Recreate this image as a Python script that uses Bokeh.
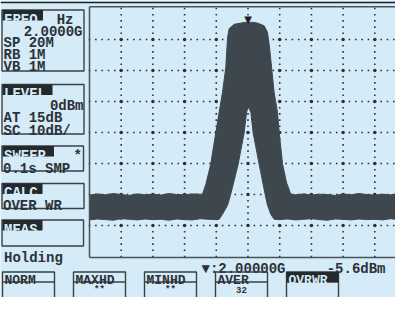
from bokeh.plotting import figure
from bokeh.models import Range1d
from bokeh.core.properties import value
from bokeh.embed import file_html
from bokeh.resources import INLINE
import numpy as np

# ---------------- data ----------------
# upper envelope of the trace (MHz, dBm)
upper_freq_mhz = [1990.0, 1990.5, 1991.0, 1991.5, 1992.0, 1992.5, 1993.0, 1993.5,
                  1994.0, 1994.5, 1995.0, 1995.5, 1996.0, 1996.5, 1997.0,
                  1997.13, 1997.34, 1997.65, 1997.97, 1998.18, 1998.39, 1998.60,
                  1998.71, 1998.81, 1999.13, 1999.76, 2000.01, 2000.39, 2000.66,
                  2001.02, 2001.23, 2001.36, 2001.65, 2001.86, 2001.97, 2002.18,
                  2002.43, 2002.70,
                  2003.0, 2003.5, 2004.0, 2004.5, 2005.0, 2005.5, 2006.0, 2006.5,
                  2007.0, 2007.5, 2008.0, 2008.5, 2009.0, 2009.5, 2010.0]
upper_dbm = [-60.2, -59.8, -60.1, -59.7, -60.0, -60.3, -59.8, -60.1,
             -59.9, -60.2, -59.7, -60.0, -60.1, -59.8, -59.9,
             -59.9, -56.7, -50.2, -40.0, -33.5, -27.1, -19.0,
             -9.4, -6.5, -5.1, -4.5, -4.4, -4.5, -4.8,
             -5.6, -7.7, -12.6, -27.1, -33.5, -40.0, -50.2,
             -56.1, -59.9,
             -60.1, -59.8, -60.2, -59.9, -60.0, -60.3, -59.8, -60.1,
             -59.7, -60.0, -60.2, -59.9, -60.1, -59.8, -60.0]
# lower envelope of the trace (MHz, dBm)
lower_freq_mhz = [1990.0, 1990.5, 1991.0, 1991.5, 1992.0, 1992.5, 1993.0, 1993.5,
                  1994.0, 1994.5, 1995.0, 1995.5, 1996.0, 1996.5, 1997.0, 1997.5,
                  1998.0,
                  1998.18, 1998.39, 1998.71, 1998.91, 1999.38, 1999.76, 1999.91,
                  2000.01, 2000.18, 2000.32, 2000.70, 2001.08, 2001.23, 2001.44,
                  2001.65,
                  2002.0, 2002.5, 2003.0, 2003.5, 2004.0, 2004.5, 2005.0, 2005.5,
                  2006.0, 2006.5, 2007.0, 2007.5, 2008.0, 2008.5, 2009.0, 2009.5,
                  2010.0]
lower_dbm = [-68.2, -67.9, -68.1, -68.3, -67.8, -68.0, -68.2, -67.9,
             -68.1, -68.0, -68.3, -67.9, -68.1, -68.2, -67.8, -68.0,
             -68.1,
             -68.0, -66.4, -63.5, -59.9, -50.2, -40.0, -33.5,
             -31.6, -33.5, -40.0, -50.2, -59.9, -63.5, -66.4,
             -68.0,
             -68.1, -67.9, -68.2, -68.0, -67.8, -68.1, -68.3, -67.9,
             -68.0, -68.2, -67.9, -68.1, -68.0, -68.2, -67.8, -68.1,
             -68.0]

span_freq_mhz = [1990.0, 2010.0]
span_dbm = [-80.0, 0.0]
vgrid_freq_mhz = [1992, 1994, 1996, 1998, 2000, 2002, 2004, 2006, 2008]
hgrid_dbm = [-10, -20, -30, -40, -50, -60, -70]

marker_freq_mhz = 2000.0
marker_text = ["\u25bc:2.00000G", "-5.6dBm"]

freq_lines = ["2.0000G", "SP 20M", "RB  1M", "VB  1M"]
level_lines = ["0dBm", "AT 15dB", "SC 10dB/"]
sweep_lines = ["0.1s SMP"]
calc_lines = ["OVER WR"]
meas_status = ["Holding"]
section_titles = ["FREQ", "LEVEL", "SWEEP", "CALC", "MEAS"]
button_labels = ["NORM", "MAXHD", "MINHD", "AVER", "OVRWR"]
button_values = ["", "**", "**", "32", ""]

# ---------------- style / layout ----------------
BG = "#d5ebf7"
INK = "#2c3237"
DARK = "#24292d"
TRACE = "#3e474e"
W, H = 395, 297
X0, Y0 = 8, 8            # page margin: pixel coords match reference image
PLOT_L, PX_PER_MHZ = 97.0, 15.85
DB0_Y, PX_PER_DB = 16.0, 3.1

FONT = value("Liberation Mono")
FS = value("14px")

p = figure(width=W, height=H, output_backend="svg", toolbar_location=None,
           x_axis_type=None, y_axis_type=None,
           x_range=Range1d(X0, X0 + W), y_range=Range1d(Y0 + H, Y0),
           min_border=0, min_border_left=0, min_border_right=0,
           min_border_top=0, min_border_bottom=0)
p.background_fill_color = BG
p.border_fill_color = BG
p.outline_line_color = None
p.grid.visible = False

f_lo = span_freq_mhz[0] + (X0 - PLOT_L) / PX_PER_MHZ
f_hi = span_freq_mhz[0] + (X0 + W - PLOT_L) / PX_PER_MHZ
d_top = -(Y0 - DB0_Y) / PX_PER_DB
d_bot = -(Y0 + H - DB0_Y) / PX_PER_DB
p.extra_x_ranges = {"freq": Range1d(f_lo, f_hi)}
p.extra_y_ranges = {"db": Range1d(d_bot, d_top)}
RK = dict(x_range_name="freq", y_range_name="db")

# screen top border
p.segment(x0=[X0], x1=[X0 + W], y0=[10], y1=[10], line_color="#1e2226", line_width=1.6)

# grid dots
for yv in hgrid_dbm:
    xs = np.arange(span_freq_mhz[0], span_freq_mhz[1] + 0.01, 0.4)
    p.scatter(x=xs, y=[yv] * len(xs), marker="square", size=1.6,
              fill_color=INK, line_color=None, **RK)
for xv in vgrid_freq_mhz:
    ys = np.arange(span_dbm[0], span_dbm[1] + 0.01, 2.0)
    p.scatter(x=[xv] * len(ys), y=ys, marker="square", size=1.6,
              fill_color=INK, line_color=None, **RK)
gx, gy = np.meshgrid(vgrid_freq_mhz, hgrid_dbm)
p.scatter(x=gx.ravel(), y=gy.ravel(), marker="circle", size=3.6,
          fill_color=INK, line_color=None, **RK)

# trace band
px = list(upper_freq_mhz) + list(reversed(lower_freq_mhz))
py = list(upper_dbm) + list(reversed(lower_dbm))
p.patch(x=px, y=py, fill_color=TRACE, line_color=TRACE, line_width=1, **RK)

# plot frame (left, top, bottom)
p.segment(x0=[span_freq_mhz[0], span_freq_mhz[0], span_freq_mhz[0]],
          x1=[span_freq_mhz[0], span_freq_mhz[1] + 1, span_freq_mhz[1] + 1],
          y0=[span_dbm[0] - 0.3, span_dbm[1] + 0.6, span_dbm[0] - 0.3],
          y1=[span_dbm[1] + 0.6, span_dbm[1] + 0.6, span_dbm[0] - 0.3],
          line_color="#4a5157", line_width=1.5, **RK)

# peak marker
pk = int(np.argmax(upper_dbm))
p.text(x=[marker_freq_mhz], y=[upper_dbm[pk]], text=["\u25bc"], text_align="center",
       text_baseline="bottom", text_font=value("DejaVu Sans"), text_font_size=value("10px"),
       text_color="#1e2226", y_offset=3, **RK)

# ---------- left panel ----------
boxes = [(9.5, 91.5, 17.5, 78.5), (9.5, 91.5, 92, 141.5), (9.5, 91, 153.5, 178.5),
         (9.5, 91.5, 191, 216), (9.5, 91, 227.5, 253.5)]
p.quad(left=[b[0] for b in boxes], right=[b[1] for b in boxes],
       top=[b[2] for b in boxes], bottom=[b[3] for b in boxes],
       fill_color=None, line_color="#3a4045", line_width=1.4)

hl_top = [17.5, 92, 153.5, 191, 227.5]
hl_right = [50.5, 60, 61.5, 50, 50]
p.quad(left=[10] * 5, right=hl_right, top=hl_top, bottom=[t + 10.5 for t in hl_top],
       fill_color=DARK, line_color=None)
p.text(x=[11.5] * 5, y=[t + 9.6 for t in hl_top], text=section_titles,
       text_font=FONT, text_font_style="bold", text_font_size=FS,
       text_color=BG, text_baseline="alphabetic")

common = dict(text_font=FONT, text_font_style="bold", text_font_size=FS,
              text_color=INK, text_baseline="alphabetic")
# FREQ box
p.text(x=[81], y=[27.0], text=["Hz"], text_align="right", **common)
p.text(x=[90], y=[39.3], text=[freq_lines[0]], text_align="right", **common)
p.text(x=[11] * 3, y=[50.8, 62.4, 74.0], text=freq_lines[1:], **common)
# LEVEL box
p.text(x=[91], y=[113.4], text=[level_lines[0]], text_align="right", **common)
p.text(x=[11] * 2, y=[125.8, 138.3], text=level_lines[1:], **common)
# SWEEP box
p.text(x=[89.5], y=[163.0], text=["*"], text_align="right", **common)
p.text(x=[10.5], y=[176.7], text=sweep_lines, **common)
# CALC box
p.text(x=[10.5], y=[213.2], text=calc_lines, **common)
# status
p.text(x=[11.5], y=[265.5], text=meas_status, **common)

# marker readout
p.text(x=[293, 393], y=[276, 276], text=marker_text, text_align="right", **common)

# ---------- bottom buttons ----------
BT, BD = 279.5, 289.5
b_left = [10 + 71 * i for i in range(5)]
b_right = [l + 52 for l in b_left]
b_mid = [l + 26 for l in b_left]
BFS = value("13px")
p.quad(left=b_left, right=b_right, top=[BT] * 5, bottom=[330] * 5,
       fill_color=None, line_color="#3a4045", line_width=1.4)
p.segment(x0=b_left, x1=b_right, y0=[BD] * 5, y1=[BD] * 5,
          line_color="#3a4045", line_width=1.4)
p.quad(left=[b_left[4]], right=[b_right[4]], top=[BT], bottom=[BD],
       fill_color=DARK, line_color=None)
p.text(x=[l + 2 for l in b_left[:4]], y=[BT + 8.9] * 4, text=button_labels[:4],
       text_font=FONT, text_font_style="bold", text_font_size=BFS, text_color=INK,
       text_baseline="alphabetic")
p.text(x=[b_left[4] + 2], y=[BT + 8.9], text=[button_labels[4]], text_font=FONT,
       text_font_style="bold", text_font_size=BFS, text_color=BG, text_baseline="alphabetic")
p.text(x=b_mid[1:4], y=[BD + 7.8] * 3, text=button_values[1:4], text_align="center",
       text_font=FONT, text_font_style="bold", text_font_size=value("9px"),
       text_color=INK, text_baseline="alphabetic")

open("out.html", "w").write(file_html(p, INLINE))
